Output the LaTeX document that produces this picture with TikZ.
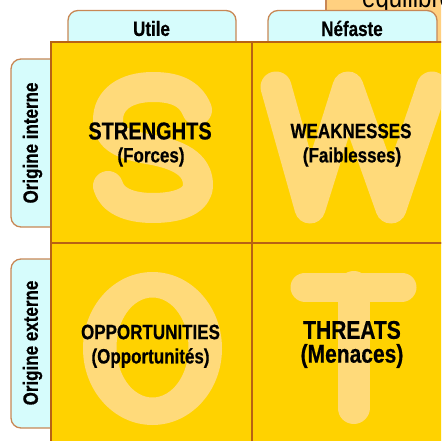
\documentclass[tikz,border=0pt]{standalone}
\usepackage{fontspec}
\setmainfont{Liberation Sans}[BoldFeatures={FakeBold=0.6}]
\definecolor{gold}{RGB}{255,210,0}
\definecolor{pale}{RGB}{255,218,122}
\definecolor{gridline}{RGB}{184,98,20}
\definecolor{tabfill}{RGB}{214,252,252}
\definecolor{tabline}{RGB}{200,135,85}
\definecolor{peach}{RGB}{255,208,128}
\newcommand{\stretchtxt}[1]{\scalebox{1}[1.22]{#1}}
\tikzset{
  tabbox/.style={draw=tabline, fill=tabfill, line width=1.3pt, rounded corners=10pt},
  tablabel/.style={font=\bfseries\fontsize{17}{20}\selectfont, inner sep=0pt},
  cellbox/.style={draw=gridline, fill=gold, line width=1.8pt, minimum width=201pt, minimum height=201pt, inner sep=0pt},
  bigletter/.style={draw=pale, line width=30pt, line cap=round, line join=round},
  mainlabel/.style={font=\bfseries\fontsize{17}{20}\selectfont, inner sep=0pt},
}
\begin{document}
\begin{tikzpicture}[x=1pt,y=-1pt]
\useasboundingbox (0,0) rectangle (441,441);
\clip (0,0) rectangle (441,441);
% partial box at top right
\draw[draw=tabline, fill=peach, line width=1.3pt] (326,-30) rectangle (480,42);
\node[anchor=base west, font=\fontsize{24}{26}\selectfont, inner sep=0pt] (equi) at (362,8) {\stretchtxt{équilibre}};
% top tabs
\draw[tabbox] (68,10.5) rectangle (236,70);
\draw[tabbox] (268,10.5) rectangle (437,70);
% left tabs
\draw[tabbox] (11,59) rectangle (70,227);
\draw[tabbox] (11,259) rectangle (70,428);
% cells (fill)
\node[cellbox, draw=none] (cS) at (151.5,142.5) {};
\node[cellbox, draw=none] (cW) at (352.5,142.5) {};
\node[cellbox, draw=none] (cO) at (151.5,343.5) {};
\node[cellbox, draw=none] (cT) at (352.5,343.5) {};
% big letters
\draw[bigletter] (197,110) .. controls (190,93) and (175,87) .. (153,87)
  .. controls (125,87) and (108,100) .. (108,120)
  .. controls (108,140) and (125,145) .. (153,150)
  .. controls (185,156) and (198,168) .. (198,185)
  .. controls (198,200) and (180,208) .. (153,208)
  .. controls (128,208) and (112,200) .. (108,186);
\draw[bigletter, line width=31pt] (276,87) -- (310,208) -- (348,87) -- (391,208) -- (432,87);
\fill[pale, even odd rule] (152.5,348.5) ellipse [x radius=69.5, y radius=76.5]
  (152.5,347.5) ellipse [x radius=36, y radius=50];
\draw[bigletter, line width=29pt] (305,287) -- (402,287);
\draw[bigletter, line width=32pt] (353.5,287) -- (353.5,408);
% cell borders
\node[cellbox, fill=none] at (cS) {};
\node[cellbox, fill=none] at (cW) {};
\node[cellbox, fill=none] at (cO) {};
\node[cellbox, fill=none] at (cT) {};
% tab labels
\node[tablabel] (utile) at (151.5,28.5) {\stretchtxt{Utile}};
\node[tablabel] (nefaste) at (352,28.5) {\stretchtxt{Néfaste}};
\node[tablabel, rotate=90] (oint) at (32.5,143) {\stretchtxt{Origine interne}};
\node[tablabel, rotate=90] (oext) at (32.5,343) {\stretchtxt{Origine externe}};
% main labels
\node[mainlabel, font=\bfseries\fontsize{20}{22}\selectfont] (s1) at (150,131) {\stretchtxt{STRENGHTS}};
\node[mainlabel] (s2) at (151,157) {\stretchtxt{(Forces)}};
\node[mainlabel] (w1) at (351,131) {\stretchtxt{WEAKNESSES}};
\node[mainlabel] (w2) at (352,157) {\stretchtxt{(Faiblesses)}};
\node[mainlabel] (o1) at (150.5,332) {\stretchtxt{OPPORTUNITIES}};
\node[mainlabel] (o2) at (150.5,358) {\stretchtxt{(Opportunités)}};
\node[mainlabel, font=\bfseries\fontsize{21}{24}\selectfont] (t1) at (352,330) {\stretchtxt{THREATS}};
\node[mainlabel, font=\bfseries\fontsize{21}{24}\selectfont] (t2) at (352,356) {\stretchtxt{(Menaces)}};
\end{tikzpicture}
\end{document}
